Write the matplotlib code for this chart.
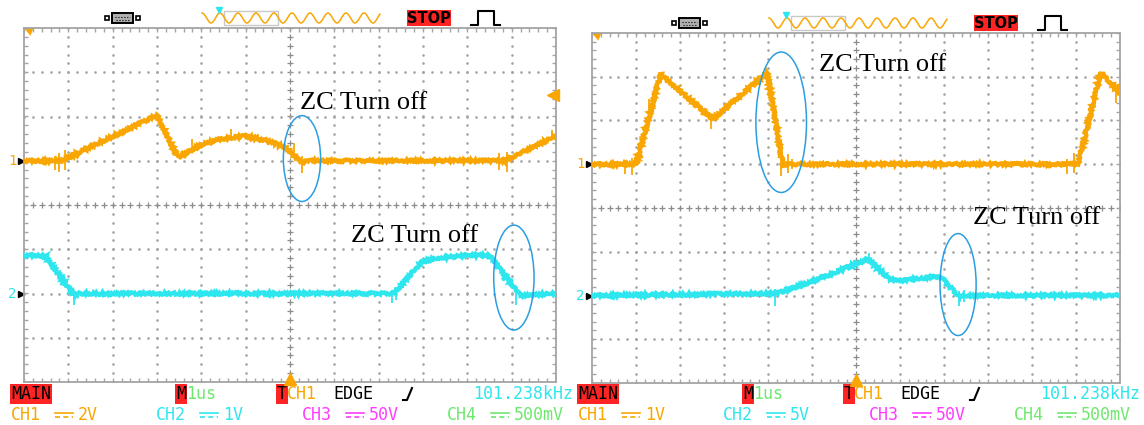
import numpy as np
import matplotlib.pyplot as plt
from matplotlib.patches import Ellipse, Rectangle, Polygon

W, H = 1144, 425

# ---- waveform data, read off the screens (units: divisions) ----
# left screen
l_ch1_t = [0, 0.85, 3.0, 3.47, 4.04, 4.5, 4.99, 5.5, 5.9, 6.26, 6.4, 10.85, 12.0]
l_ch1_v = [0, 0, 1.03, 0.08, 0.38, 0.50, 0.56, 0.45, 0.30, -0.05, 0, 0, 0.56]
l_ch1_spk_t = [0.7, 0.8, 0.92, 3.2, 3.8, 4.66, 5.28, 6.1, 6.28, 10.72, 10.9, 11.9]
l_ch1_spk_lo = [-0.22, -0.25, -0.2, 0.5, 0.35, 0.5, 0.45, 0.2, -0.28, -0.2, -0.25, 0.5]
l_ch1_spk_hi = [0.1, 0.18, 0.25, 0.75, 0.5, 0.72, 0.6, 0.4, 0.1, 0.18, 0.2, 0.7]

l_ch2_t = [0, 0.47, 1.13, 1.25, 8.35, 8.6, 8.97, 9.3, 10.04, 10.5, 11.2, 12]
l_ch2_v = [0.86, 0.86, -0.04, 0, 0, 0.3, 0.71, 0.8, 0.86, 0.86, -0.05, 0]
l_ch2_spk_t = [0.9, 1.12, 8.3, 8.4, 10.8, 11.1]
l_ch2_spk_lo = [0.25, -0.25, -0.22, -0.15, 0.3, -0.25]
l_ch2_spk_hi = [0.45, 0.05, 0.08, 0.15, 0.5, 0.08]

# right screen
r_ch1_t = [0, 1.0, 1.56, 2.75, 3.98, 4.34, 4.45, 11.05, 11.56, 12]
r_ch1_v = [0, 0, 2.06, 1.03, 2.1, -0.04, 0, 0, 2.1, 1.64]
r_ch1_spk_t = [0.75, 0.92, 1.3, 2.7, 4.3, 4.45, 4.55, 10.8, 10.95, 11.9]
r_ch1_spk_lo = [-0.22, -0.24, 1.0, 0.8, -0.27, -0.2, -0.1, -0.22, -0.2, 1.4]
r_ch1_spk_hi = [0.1, 0.15, 1.5, 1.1, 0.15, 0.23, 0.12, 0.12, 0.25, 1.8]

r_ch2_t = [0, 4.2, 5.12, 6.27, 6.75, 6.95, 7.91, 8.36, 8.45, 12]
r_ch2_v = [0, 0.05, 0.36, 0.84, 0.38, 0.33, 0.44, -0.04, 0, 0]
r_ch2_spk_t = [4.15, 5.2, 6.3, 8.35, 8.45]
r_ch2_spk_lo = [-0.25, 0.35, 0.8, -0.25, -0.15]
r_ch2_spk_hi = [0.15, 0.5, 0.97, 0.1, 0.12]

# annotation ellipses: (cx, cy, w, h)
l_ellipses = [(6.27, 1.05, 0.84, 1.94), (11.05, -1.64, 0.91, 2.37)]
r_ellipses = [(4.3, 1.96, 1.15, 3.21), (8.32, -1.75, 0.82, 2.33)]
# annotation text baselines
l_texts = [(6.22, 2.17), (7.37, -0.83)]
r_texts = [(5.16, 3.14), (8.65, -0.36)]

ORANGE = '#f9a602'
CYAN = '#2ee6ee'
BLUE = '#2a9ee0'
GRID = '#a4a4a4'

fig = plt.figure(figsize=(W / 100, H / 100), dpi=100)

# overlay axes in pixel coords for the scope UI bits
ov = fig.add_axes([0, 0, 1, 1])
ov.set_xlim(0, W)
ov.set_ylim(H, 0)
ov.axis('off')


def make_screen(box):
    x0, y0, x1, y1 = box
    ax = fig.add_axes([x0 / W, 1 - y1 / H, (x1 - x0) / W, (y1 - y0) / H])
    ax.set_xlim(0, 12)
    ax.set_ylim(-4, 4)
    ax.set_xticks([])
    ax.set_yticks([])
    for s in ax.spines.values():
        s.set_color(GRID)
        s.set_linewidth(1.3)
    xf = np.arange(0, 12.01, 0.2)
    yf = np.arange(-4, 4.01, 0.2)
    for i in range(1, 12):
        if i == 6:
            ax.plot([i] * len(yf), yf, ls='none', marker='+', ms=4, mew=0.9, color='#8c8c8c')
        else:
            ax.plot([i] * len(yf), yf, ls='none', marker='.', ms=1.8, color=GRID)
    for j in range(-3, 4):
        if j == 0:
            ax.plot(xf, [j] * len(xf), ls='none', marker='+', ms=4, mew=0.9, color='#8c8c8c')
        else:
            ax.plot(xf, [j] * len(xf), ls='none', marker='.', ms=1.8, color=GRID)
    ax.vlines(xf, 3.9, 4, color=GRID, lw=1)
    ax.vlines(xf, -4, -3.9, color=GRID, lw=1)
    ax.hlines(yf, 0, 0.08, color=GRID, lw=1)
    ax.hlines(yf, 11.92, 12, color=GRID, lw=1)
    # corner marker and trigger position marker
    ax.add_patch(Polygon([(0, 1), (0.018, 1), (0.012, 0.978)], closed=True,
                         transform=ax.transAxes, fc=ORANGE, ec='none', clip_on=False))
    ax.plot([6], [-3.93], marker='^', ms=8, color=ORANGE, clip_on=False, zorder=5)
    return ax


def trace(ax, t, v, off, color, st, lo, hi):
    ln, = ax.plot(t, np.array(v) + off, color=color, lw=3.0, solid_joinstyle='miter', zorder=4)
    ln.set_sketch_params(scale=1.2, length=3, randomness=3)
    ax.vlines(st, np.array(lo) + off, np.array(hi) + off, color=color, lw=1.3, zorder=4)


def channel_marks(ax, box):
    x0, y0, x1, y1 = box
    tr = ax.get_yaxis_transform()
    for lab, off, col in [('1', 1, ORANGE), ('2', -2, CYAN)]:
        ax.text(-12 / (x1 - x0), off, lab, transform=tr, color=col,
                fontsize=10, fontfamily='DejaVu Sans Mono', ha='center', va='center', clip_on=False)
        ax.plot([-3.5 / (x1 - x0)], [off], transform=tr, marker='>', ms=5,
                color='black', clip_on=False)


def decorate(ax, ellipses, texts):
    for cx, cy, w, h in ellipses:
        ax.add_patch(Ellipse((cx, cy), w, h, fill=False, ec=BLUE, lw=1.1, zorder=6))
    for tx, ty in texts:
        ax.text(tx, ty, 'ZC Turn off', fontfamily='Liberation Serif', fontsize=19,
                ha='left', va='baseline', zorder=6)


LBOX = (24, 28, 556, 382)
RBOX = (592, 33, 1120, 383)

axl = make_screen(LBOX)
trace(axl, l_ch1_t, l_ch1_v, 1, ORANGE, l_ch1_spk_t, l_ch1_spk_lo, l_ch1_spk_hi)
trace(axl, l_ch2_t, l_ch2_v, -2, CYAN, l_ch2_spk_t, l_ch2_spk_lo, l_ch2_spk_hi)
channel_marks(axl, LBOX)
decorate(axl, l_ellipses, l_texts)
axl.plot([11.93], [2.49], marker='<', ms=8, color=ORANGE, clip_on=False, zorder=5)

axr = make_screen(RBOX)
trace(axr, r_ch1_t, r_ch1_v, 1, ORANGE, r_ch1_spk_t, r_ch1_spk_lo, r_ch1_spk_hi)
trace(axr, r_ch2_t, r_ch2_v, -2, CYAN, r_ch2_spk_t, r_ch2_spk_lo, r_ch2_spk_hi)
channel_marks(axr, RBOX)
decorate(axr, r_ellipses, r_texts)


# ---- top status icons ----
def icons(dx, yc):
    # connector
    ov.add_patch(Rectangle((105 + dx, yc - 2), 4, 4, fc='white', ec='black', lw=1.2))
    ov.add_patch(Rectangle((136 + dx, yc - 2), 4, 4, fc='white', ec='black', lw=1.2))
    ov.add_patch(Rectangle((112 + dx, yc - 5), 21, 10, fc='#b0b0b0', ec='black', lw=1.4))
    ov.plot([115 + dx, 130 + dx], [yc - 1.5, yc - 1.5], color='black', lw=0.8, ls=':')
    ov.plot([116 + dx, 129 + dx], [yc + 1.5, yc + 1.5], color='black', lw=0.8, ls=':')
    # memory wave
    xs = np.linspace(202, 380, 400)
    ov.plot(xs + dx, yc - 5 * np.cos((xs - 202) / 18.0 * 2 * np.pi), color=ORANGE, lw=1.1)
    ov.add_patch(Rectangle((224 + dx, yc - 7), 54, 14, fill=False, ec='#c8c8c8', lw=1))
    ov.plot([219 + dx], [yc - 8], marker='v', ms=5, color=CYAN)
    # STOP
    ov.add_patch(Rectangle((407 + dx, yc - 8), 44, 16, fc='#ff2424', ec='none'))
    ov.text(429 + dx, yc, 'STOP', fontfamily='DejaVu Sans', fontweight='bold',
            fontsize=10.5, ha='center', va='center', color='black')
    # pulse
    p = 471 + dx
    ov.plot([p, p + 7, p + 7, p + 23, p + 23, p + 29], [yc + 7, yc + 7, yc - 7, yc - 7, yc + 7, yc + 7],
            color='black', lw=1.5)


icons(0, 18)
icons(567, 23)

# ---- bottom status rows ----
row1, row2 = 394, 415
ch_scale = [('2V', '1V'), ('1V', '5V')]
MAGENTA = '#ff3cff'
GREEN = '#6ee86e'
MONO = 'DejaVu Sans Mono'
FS = 12


def dc_sym(x, y, col):
    ov.plot([x, x + 18], [y - 2, y - 2], color=col, lw=1.2)
    ov.plot([x, x + 18], [y + 2, y + 2], color=col, lw=1.2, ls=(0, (3, 2)))


for k, dx in enumerate([0, 567]):
    ov.text(11 + dx, row1, 'MAIN', fontfamily=MONO, fontsize=FS, va='center', color='black',
            bbox=dict(boxstyle='square,pad=0.08', fc='#ff2424', ec='none'))
    ov.text(176 + dx, row1, 'M', fontfamily=MONO, fontsize=FS, va='center', color='black',
            bbox=dict(boxstyle='square,pad=0.05', fc='#ff2424', ec='none'))
    ov.text(186 + dx, row1, '1us', fontfamily=MONO, fontsize=FS, va='center', color=GREEN)
    ov.text(277 + dx, row1, 'T', fontfamily=MONO, fontsize=FS, va='center', color='black',
            bbox=dict(boxstyle='square,pad=0.05', fc='#ff2424', ec='none'))
    ov.text(287 + dx, row1, 'CH1', fontfamily=MONO, fontsize=FS, va='center', color=ORANGE)
    ov.text(333 + dx, row1, 'EDGE', fontfamily=MONO, fontsize=FS, va='center', color='black')
    ov.plot([403 + dx, 407 + dx, 412 + dx], [row1 + 6, row1 + 6, row1 - 6], color='black', lw=1.5)
    ov.text(473 + dx, row1, '101.238kHz', fontfamily=MONO, fontsize=FS, va='center', color=CYAN)

    s1, s2 = ch_scale[k]
    for x, lab, val, col in [(11, 'CH1', s1, ORANGE), (156, 'CH2', s2, CYAN),
                             (302, 'CH3', '50V', MAGENTA), (447, 'CH4', '500mV', GREEN)]:
        ov.text(x + dx, row2, lab, fontfamily=MONO, fontsize=FS, va='center', color=col)
        dc_sym(x + 44 + dx, row2, col)
        ov.text(x + 67 + dx, row2, val, fontfamily=MONO, fontsize=FS, va='center', color=col)

fig.savefig('out.png', dpi=100)
